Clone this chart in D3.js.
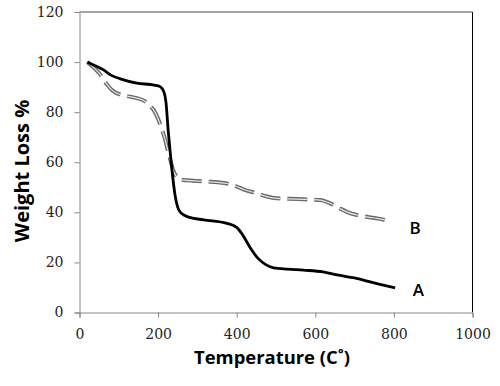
<!DOCTYPE html>
<html><head><meta charset="utf-8">
<script src="https://cdn.jsdelivr.net/npm/d3@7"></script>
<style>body{margin:0;background:#fff}svg{display:block}</style>
</head><body>
<svg id="c" width="500" height="386"></svg>
<script>
const xTicks = [0,200,400,600,800,1000];
const yTicks = [0,20,40,60,80,100,120];
const seriesNames = ["A","B"];
const tempA = [20,40,60,80,104,146,190,205,215,220,226,232,238,244,250,260,280,316,375,400,415,434,455,475,494,530,570,620,655,700,740,770,803];
const weightA = [100,98.5,97,94.8,93.3,91.6,90.8,90.2,88,84,72,62,53,46,42,39.5,38,37,35.6,34,31,26,21.5,19,17.8,17.3,16.9,16.2,15,13.8,12.2,11,9.8];
const tempB = [20,35,53,70,85,104,125,146,165,176,190,201,210,218,225,231,238,248,260,273,300,333,375,400,420,451,477,502,553,612,638,660,680,731,760,787];
const weightB = [100,98,95,91,88.5,87,86.3,85.6,84.5,83,80.5,77,73,69,64.5,61,57,54,53,52.8,52.5,52.2,51.5,50.3,49,47.6,46.3,45.6,45.3,44.9,43.6,41.8,40.2,38.2,37.5,36.6];
const labelPos = [[862,9],[854,34]]; // A, B label anchors (data units)

const svg = d3.select("#c");
const L=79.5, R=472.5, T=12, B=312.5;
const x = d3.scaleLinear().domain([0,1000]).range([L,R]);
const y = d3.scaleLinear().domain([0,120]).range([B,T]);
const axisCol = "#868686";

svg.append("line").attr("x1",L).attr("x2",R).attr("y1",T).attr("y2",T).attr("stroke",axisCol).attr("stroke-width",1.5);
svg.append("line").attr("x1",R).attr("x2",R).attr("y1",T).attr("y2",B).attr("stroke","#000").attr("stroke-width",1);

const gx = svg.append("g").attr("transform",`translate(0,${B})`)
  .call(d3.axisBottom(x).tickValues(xTicks).tickSize(5).tickPadding(12).tickFormat(d3.format("d")));
const gy = svg.append("g").attr("transform",`translate(${L},0)`)
  .call(d3.axisLeft(y).tickValues(yTicks).tickSize(5).tickPadding(11).tickFormat(d3.format("d")));
[gx,gy].forEach(g=>{
  g.select(".domain").attr("stroke",axisCol).attr("stroke-width",1);
  g.selectAll(".tick line").attr("stroke",axisCol);
  g.selectAll(".tick text").attr("font-family","DejaVu Serif").attr("font-size",14).attr("fill","#222");
});

const line = d3.line().curve(d3.curveMonotoneX).x(d=>x(d[0])).y(d=>y(d[1]));
const dataA = tempA.map((t,i)=>[t,weightA[i]]);
const dataB = tempB.map((t,i)=>[t,weightB[i]]);

svg.append("path").datum(dataB).attr("d",line).attr("fill","none")
  .attr("stroke","#6a6a6a").attr("stroke-width",4).attr("stroke-dasharray","20,7");
svg.append("path").datum(dataB).attr("d",line).attr("fill","none")
  .attr("stroke","#e6e6e6").attr("stroke-width",1.2).attr("stroke-dasharray","20,7");
svg.append("path").datum(dataA).attr("d",line).attr("fill","none")
  .attr("stroke","#000").attr("stroke-width",2.8);

svg.selectAll("text.lab").data(seriesNames).enter().append("text")
  .attr("class","lab")
  .attr("x",(d,i)=>x(labelPos[i][0])).attr("y",(d,i)=>y(labelPos[i][1]))
  .attr("text-anchor","middle").attr("dominant-baseline","central")
  .attr("font-family","Open Sans").attr("font-size",17).attr("font-weight",600)
  .text(d=>d);

svg.append("text").attr("x",272).attr("y",364).attr("text-anchor","middle")
  .attr("font-family","Open Sans").attr("font-weight",700).attr("font-size",18.4)
  .text("Temperature (C˚)");
svg.append("text").attr("transform","translate(29,171) rotate(-90)").attr("text-anchor","middle")
  .attr("font-family","Open Sans").attr("font-weight",700).attr("font-size",20)
  .text("Weight  Loss %");
</script>
</body></html>
